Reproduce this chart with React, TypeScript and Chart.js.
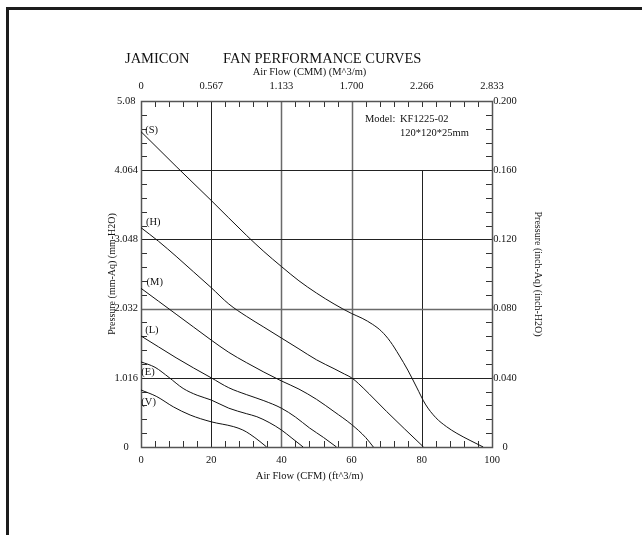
import React, { useEffect, useRef } from 'react';
import { Chart, registerables } from 'chart.js';
Chart.register(...registerables);

const FONT = '"Liberation Serif", "Times New Roman", serif';

// Axis ticks / labels
const cfmTicks = [0, 20, 40, 60, 80, 100];
const cfmTickLabels = ['0', '20', '40', '60', '80', '100'];
const cmmTickLabels = ['0', '0.567', '1.133', '1.700', '2.266', '2.833'];
const mmTicks = [0, 1.016, 2.032, 3.048, 4.064, 5.08];
const mmTickLabels = ['0', '1.016', '2.032', '3.048', '4.064', '5.08'];
const inchTicks = [0, 0.04, 0.08, 0.12, 0.16, 0.2];
const inchTickLabels = ['0', '0.040', '0.080', '0.120', '0.160', '0.200'];

// Curves: air flow (CFM) vs static pressure (mm-Aq)
const curveNames = ['(S)', '(H)', '(M)', '(L)', '(E)', '(V)'];
const flowS = [0, 10, 20, 30, 35, 40, 45, 50, 55, 60, 63, 66, 68.5, 71, 73.5, 76, 78.5, 81, 84, 87, 90, 94, 97.5];
const pressS = [4.63, 4.12, 3.62, 3.11, 2.87, 2.65, 2.44, 2.26, 2.1, 1.96, 1.89, 1.8, 1.7, 1.55, 1.35, 1.13, 0.88, 0.63, 0.43, 0.3, 0.2, 0.09, 0];
const flowH = [0, 5, 10, 15, 20, 25, 30, 35, 40, 45, 50, 55, 58, 60, 62, 65, 70, 75, 80.5];
const pressH = [3.22, 3.02, 2.8, 2.57, 2.34, 2.1, 1.92, 1.76, 1.6, 1.44, 1.28, 1.15, 1.07, 1.016, 0.93, 0.78, 0.52, 0.27, 0];
const flowM = [0, 5, 10, 15, 20, 25, 30, 35, 40, 45, 50, 55, 60, 64, 66.2];
const pressM = [2.33, 2.14, 1.95, 1.76, 1.57, 1.39, 1.24, 1.1, 0.97, 0.85, 0.7, 0.52, 0.33, 0.14, 0];
const flowL = [0, 5, 10, 15, 20, 25, 30, 35, 40, 44, 48, 52, 55.7];
const pressL = [1.63, 1.47, 1.31, 1.16, 1.016, 0.87, 0.77, 0.68, 0.57, 0.44, 0.28, 0.14, 0];
const flowE = [0, 4, 8, 12, 16, 20, 25, 30, 33, 36.5, 40, 43, 46.2];
const pressE = [1.25, 1.17, 1.02, 0.86, 0.76, 0.69, 0.57, 0.49, 0.445, 0.36, 0.25, 0.13, 0];
const flowV = [0, 4.5, 9.2, 14, 20, 26.3, 29, 31, 33.9, 35.8];
const pressV = [0.837, 0.74, 0.59, 0.47, 0.37, 0.3, 0.25, 0.19, 0.08, 0];

// Where each curve's name sits (CFM, mm-Aq)
const labelFlow = [1.2, 1.4, 1.6, 1.2, 0.1, 0.1];
const labelPress = [4.654, 3.293, 2.422, 1.718, 1.101, 0.661];

const chartTitleLeft = 'JAMICON';
const chartTitleRight = 'FAN PERFORMANCE CURVES';
const topAxisTitle = 'Air Flow (CMM) (M^3/m)';
const bottomAxisTitle = 'Air Flow (CFM) (ft^3/m)';
const modelLabel = 'Model:';
const modelName = 'KF1225-02';
const modelSize = '120*120*25mm';

const xGridValues = [20, 40, 60, 80];
const yGridValues = [1.016, 2.032, 3.048, 4.064];

const flows = [flowS, flowH, flowM, flowL, flowE, flowV];
const presses = [pressS, pressH, pressM, pressL, pressE, pressV];

const decor = {
  id: 'decor',
  beforeDraw(chart: any) {
    const ctx = chart.ctx;
    ctx.save();
    ctx.fillStyle = '#1c1c1c';
    ctx.fillRect(6, 7, 640, 3);
    ctx.fillRect(6, 7, 3, 530);
    ctx.restore();
  },
  beforeDatasetsDraw(chart: any) {
    const ctx = chart.ctx;
    const xs = chart.scales.x;
    const ys = chart.scales.y;
    const { left, right, top, bottom } = chart.chartArea;
    const px = (v: number) => Math.round(xs.getPixelForValue(v)) + 0.5;
    const py = (v: number) => Math.round(ys.getPixelForValue(v)) + 0.5;
    ctx.save();
    // minor ticks
    ctx.strokeStyle = '#333';
    ctx.lineWidth = 1;
    ctx.beginPath();
    for (let v = 4; v < 100; v += 4) {
      const x = px(v);
      ctx.moveTo(x, top); ctx.lineTo(x, top + 6);
      ctx.moveTo(x, bottom); ctx.lineTo(x, bottom - 6);
    }
    for (let i = 1; i < 25; i++) {
      const y = py(i * 0.2032);
      ctx.moveTo(left, y); ctx.lineTo(left + 6, y);
      ctx.moveTo(right, y); ctx.lineTo(right - 6, y);
    }
    ctx.stroke();
    // grid
    xGridValues.forEach((v, i) => {
      const gray = i === 1 || i === 2;
      ctx.strokeStyle = gray ? '#6a6a6a' : '#222';
      ctx.lineWidth = gray ? 1.5 : 1;
      ctx.beginPath();
      const x = px(v);
      const y0 = v === 80 ? py(4.064) : top;
      ctx.moveTo(x, y0); ctx.lineTo(x, bottom);
      ctx.stroke();
    });
    yGridValues.forEach((v, i) => {
      const gray = i === 1;
      ctx.strokeStyle = gray ? '#6a6a6a' : '#222';
      ctx.lineWidth = gray ? 1.5 : 1;
      ctx.beginPath();
      const y = py(v);
      ctx.moveTo(left, y); ctx.lineTo(right, y);
      ctx.stroke();
    });
    // border
    ctx.strokeStyle = '#555';
    ctx.lineWidth = 1.5;
    ctx.strokeRect(Math.round(left) + 0.5, Math.round(top) + 0.5, Math.round(right - left), Math.round(bottom - top));
    ctx.restore();
  },
  afterDatasetsDraw(chart: any) {
    const ctx = chart.ctx;
    const xs = chart.scales.x;
    const ys = chart.scales.y;
    const { left, right, top, bottom } = chart.chartArea;
    const cx = (left + right) / 2 - 7;
    ctx.save();
    ctx.fillStyle = '#111';
    ctx.textBaseline = 'middle';
    ctx.textAlign = 'left';
    ctx.font = `10.5px ${FONT}`;
    curveNames.forEach((n, i) => {
      ctx.fillText(n, xs.getPixelForValue(labelFlow[i]), ys.getPixelForValue(labelPress[i]));
    });
    ctx.fillText(modelLabel, left + 224, top + 18.5);
    ctx.fillText(modelName, left + 259, top + 18.5);
    ctx.fillText(modelSize, left + 259, top + 32);
    ctx.textAlign = 'center';
    ctx.fillText(topAxisTitle, cx, top - 28.5);
    ctx.fillText(bottomAxisTitle, cx, bottom + 29);
    ctx.textAlign = 'left';
    ctx.textBaseline = 'alphabetic';
    ctx.font = `14.5px ${FONT}`;
    ctx.fillText(chartTitleLeft, left - 16, top - 38);
    ctx.fillText(chartTitleRight, left + 82, top - 38);
    ctx.restore();
  },
};

const tickFont = { family: FONT, size: 10.5 };

export default function App() {
  const ref = useRef<HTMLCanvasElement>(null);
  useEffect(() => {
    if (!ref.current) return;
    const datasets = curveNames.map((n, i) => ({
      label: n,
      data: flows[i].map((f, j) => ({ x: f, y: presses[i][j] })),
      borderColor: '#111',
      borderWidth: 1,
      pointRadius: 0,
      showLine: true,
      fill: false,
      cubicInterpolationMode: 'monotone' as const,
      xAxisID: 'x',
      yAxisID: 'y',
    }));
    const chart = new Chart(ref.current, {
      type: 'scatter',
      data: { datasets },
      options: {
        animation: false,
        responsive: false,
        devicePixelRatio: 1,
        layout: { padding: 0 },
        plugins: { legend: { display: false }, tooltip: { enabled: false }, title: { display: false } },
        scales: {
          x: {
            type: 'linear', position: 'bottom', min: 0, max: 100,
            afterBuildTicks: (s: any) => { s.ticks = cfmTicks.map((v) => ({ value: v })); },
            afterFit: (s: any) => { s.height = 88; },
            ticks: { autoSkip: false, maxRotation: 0, padding: 7.2, color: '#111', font: tickFont,
              callback: (_v: any, i: number) => cfmTickLabels[i] },
            grid: { display: false, drawTicks: false },
            border: { display: false },
          },
          x2: {
            type: 'linear', position: 'top', min: 0, max: 100,
            afterBuildTicks: (s: any) => { s.ticks = cfmTicks.map((v) => ({ value: v })); },
            afterFit: (s: any) => { s.height = 101; },
            ticks: { autoSkip: false, maxRotation: 0, padding: 8.2, color: '#111', font: tickFont,
              callback: (_v: any, i: number) => cmmTickLabels[i] },
            grid: { display: false, drawTicks: false },
            border: { display: false },
          },
          y: {
            type: 'linear', position: 'left', min: 0, max: 5.08,
            afterBuildTicks: (s: any) => { s.ticks = mmTicks.map((v) => ({ value: v })); },
            afterFit: (s: any) => { s.width = 141; },
            ticks: { autoSkip: false, padding: 3, crossAlign: 'center', color: '#111', font: tickFont,
              callback: (_v: any, i: number) => mmTickLabels[i] },
            grid: { display: false, drawTicks: false },
            border: { display: false },
            title: { display: true, text: 'Pressure (mm-Aq) (mm-H2O)', color: '#111', font: { family: FONT, size: 10 },
              padding: { top: 106.5, bottom: 0 } },
          },
          y2: {
            type: 'linear', position: 'right', min: 0, max: 0.2,
            afterBuildTicks: (s: any) => { s.ticks = inchTicks.map((v) => ({ value: v })); },
            afterFit: (s: any) => { s.width = 150; },
            ticks: { autoSkip: false, padding: 1.2, crossAlign: 'center', color: '#111', font: tickFont,
              callback: (_v: any, i: number) => inchTickLabels[i] },
            grid: { display: false, drawTicks: false },
            border: { display: false },
            title: { display: true, text: 'Pressure (inch-Aq) (inch-H2O)', color: '#111', font: { family: FONT, size: 10 },
              padding: { top: 98, bottom: 0 } },
          },
        },
      } as any,
      plugins: [decor],
    });
    return () => chart.destroy();
  }, []);
  return (
    <div style={{ position: 'absolute', left: 0, top: 0, width: 642, height: 535, overflow: 'hidden', background: '#fff' }}>
      <canvas ref={ref} width={642} height={535} style={{ display: 'block', width: 642, height: 535 }} />
    </div>
  );
}
